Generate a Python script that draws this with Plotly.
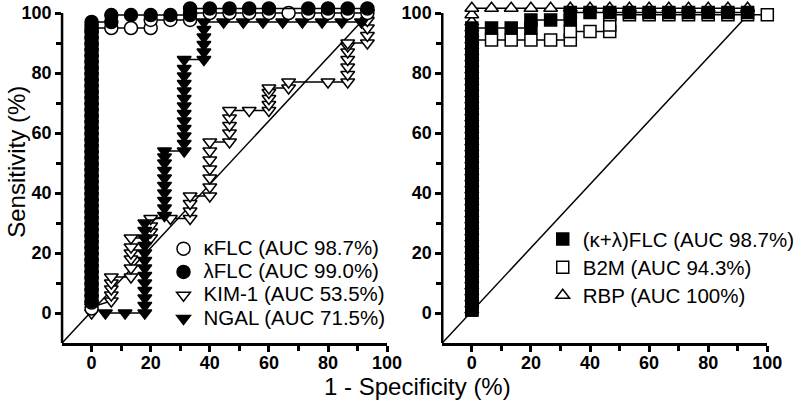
import plotly.graph_objects as go

# ---------------- data (1 - specificity %, sensitivity %) ----------------
# Left panel
kflc_fpr = [0, 0, 0, 0, 0, 0, 0, 0, 0, 0, 0, 0, 0, 0, 0, 0, 0, 0, 0, 0, 0, 0, 0, 0,
            0, 0, 0, 0, 0, 0, 0, 0, 0, 0, 0, 0, 0, 0, 0, 0, 0, 0, 0, 0, 0, 0, 0, 0,
            6.67, 13.33, 20, 20, 26.67, 33.33, 33.33, 40, 46.67, 53.33, 60, 66.67, 73.33, 80, 86.67, 93.33]
kflc_sens = [1.5, 3.5, 5.5, 7.5, 9.5, 11.5, 13.5, 15.5, 17.5, 19.5, 21.5, 23.5, 25.5, 27.5, 29.5, 31.5,
             33.5, 35.5, 37.5, 39.5, 41.5, 43.5, 45.5, 47.5, 49.5, 51.5, 53.5, 55.5, 57.5, 59.5, 61.5, 63.5,
             65.5, 67.5, 69.5, 71.5, 73.5, 75.5, 77.5, 79.5, 81.5, 83.5, 85.5, 87.5, 89.5, 91.5, 93.5, 95,
             95, 95, 95, 97.7, 97.7, 97.7, 100, 100, 100, 100, 100, 100, 100, 100, 100, 100]

lflc_fpr = [0, 0, 0, 0, 0, 0, 0, 0, 0, 0, 0, 0, 0, 0, 0, 0, 0, 0, 0, 0, 0, 0, 0, 0,
            0, 0, 0, 0, 0, 0, 0, 0, 0, 0, 0, 0, 0, 0, 0, 0, 0, 0, 0, 0, 0, 0, 0, 0,
            6.67, 6.67, 13.33, 20, 26.67, 33.33, 33.33, 40, 46.67, 53.33, 60, 73.33, 80, 86.67, 93.33]
lflc_sens = [4, 6, 8, 10, 12, 14, 16, 18, 20, 22, 24, 26, 28, 30, 32, 34, 36, 38, 40, 42, 44, 46, 48, 50,
             52, 54, 56, 58, 60, 62, 64, 66, 68, 70, 72, 74, 76, 78, 80, 82, 84, 86, 88, 90, 92, 94, 96, 97,
             97, 99.3, 99.3, 99.3, 99.3, 99.3, 101.5, 101.5, 101.5, 101.5, 101.5, 101.5, 101.5, 101.5, 101.5]

kim1_fpr = [0, 0, 6.67, 6.67, 6.67, 6.67, 6.67, 13.33, 13.33, 13.33, 13.33, 13.33, 13.33,
            20, 20, 20, 20, 26.67, 33.33, 33.33, 33.33, 33.33,
            40, 40, 40, 40, 40, 40, 40, 46.67, 46.67, 46.67, 46.67, 46.67, 53.33,
            60, 60, 60, 60, 60, 66.67, 66.67, 80, 86.67, 86.67, 86.67, 86.67, 86.67, 86.67, 86.67,
            93.33, 93.33, 93.33, 93.33, 93.33]
kim1_sens = [0, 2, 4, 6, 8, 10, 12, 12, 15, 18, 20, 22, 25,
             25, 27, 29, 31.5, 31.5, 31.5, 34, 36.5, 39,
             39, 42, 45, 48, 51, 54, 57, 57, 60, 62.5, 65, 67.5, 67.5,
             67.5, 69.5, 71.5, 73.5, 75, 75, 77, 77, 77, 79.5, 82, 84.5, 87, 89, 90,
             90, 92.5, 95, 97.5, 100]

ngal_fpr = [4.67, 11.33, 18, 18, 18, 18, 18, 18, 18, 18, 18, 18, 18, 18, 18,
            24.67, 24.67, 24.67, 24.67, 24.67, 24.67, 24.67, 24.67, 24.67, 24.67,
            31.33, 31.33, 31.33, 31.33, 31.33, 31.33, 31.33, 31.33, 31.33, 31.33, 31.33, 31.33, 31.33,
            38, 38, 38, 38, 38, 38,
            44.67, 51.33, 58, 64.67, 71.33, 78, 84.67, 91.33, 93.33]
ngal_sens = [0, 0, 0, 2.5, 5, 7.5, 10, 12.5, 15, 17.5, 20, 22.5, 25, 27.5, 30,
             32.5, 35, 37.5, 40, 42.5, 45, 47.5, 50, 52, 54,
             54, 56.5, 59, 61.5, 64, 66.5, 69, 71.5, 74, 76.5, 79, 81.5, 84.5,
             84.5, 87, 89.5, 92, 94.5, 97,
             97, 97, 97, 97, 97, 97, 97, 97, 100]

# Right panel
klflc_fpr = [0, 0, 0, 0, 0, 0, 0, 0, 0, 0, 0, 0, 0, 0, 0, 0, 0, 0, 0, 0, 0, 0, 0, 0,
             0, 0, 0, 0, 0, 0, 0, 0, 0, 0, 0, 0, 0, 0, 0, 0, 0, 0, 0, 0, 0, 0, 0, 0,
             6.67, 13.33, 20, 20, 26.67, 33.33, 33.33, 40, 46.67, 53.33, 60, 66.67, 73.33, 80, 86.67, 93.33]
klflc_sens = [1, 3, 5, 7, 9, 11, 13, 15, 17, 19, 21, 23, 25, 27, 29, 31, 33, 35, 37, 39, 41, 43, 45, 47,
              49, 51, 53, 55, 57, 59, 61, 63, 65, 67, 69, 71, 73, 75, 77, 79, 81, 83, 85, 87, 89, 91, 93, 95,
              95, 95, 95, 97.7, 97.7, 97.7, 100.2, 100.2, 100.2, 100.2, 100.2, 100.2, 100.2, 100.2, 100.2, 100.2]

b2m_fpr = [0, 0, 0, 0, 0, 0, 0, 0, 0, 0, 0, 0, 0, 0, 0, 0, 0, 0, 0, 0, 0, 0, 0, 0,
           0, 0, 0, 0, 0, 0, 0, 0, 0, 0, 0, 0, 0, 0, 0, 0, 0, 0, 0, 0, 0, 0,
           6.67, 13.33, 20, 26.67, 33.33, 33.33, 40, 46.67, 46.67, 46.67,
           53.33, 60, 66.67, 73.33, 80, 86.67, 93.33, 100]
b2m_sens = [1, 3, 5, 7, 9, 11, 13, 15, 17, 19, 21, 23, 25, 27, 29, 31, 33, 35, 37, 39, 41, 43, 45, 47,
            49, 51, 53, 55, 57, 59, 61, 63, 65, 67, 69, 71, 73, 75, 77, 79, 81, 83, 85, 87, 89, 91,
            91, 91, 91, 91, 91, 93.8, 93.8, 93.8, 96, 99.4,
            99.4, 99.4, 99.4, 99.4, 99.4, 99.4, 99.4, 99.4]

rbp_fpr = [0, 0, 0, 0, 0, 0, 0, 0, 0, 0, 0, 0, 0, 0, 0, 0, 0, 0, 0, 0, 0, 0, 0, 0,
           0, 0, 0, 0, 0, 0, 0, 0, 0, 0, 0, 0, 0, 0, 0, 0, 0, 0, 0, 0, 0, 0, 0, 0, 0, 0, 0,
           6.67, 13.33, 20, 26.67, 33.33, 40, 46.67, 53.33, 60, 66.67, 73.33, 80, 86.67, 93.33]
rbp_sens = [1, 3, 5, 7, 9, 11, 13, 15, 17, 19, 21, 23, 25, 27, 29, 31, 33, 35, 37, 39, 41, 43, 45, 47,
            49, 51, 53, 55, 57, 59, 61, 63, 65, 67, 69, 71, 73, 75, 77, 79, 81, 83, 85, 87, 89, 91, 93, 95,
            97, 99.4, 101.6,
            101.6, 101.6, 101.6, 101.6, 101.6, 101.6, 101.6, 101.6, 101.6, 101.6, 101.6, 101.6, 101.6, 101.6]

# reference (chance) line
diag_x = [-10, 94]
diag_y = [-10, 100]

left_labels = ["κFLC (AUC 98.7%)", "λFLC (AUC 99.0%)", "KIM-1 (AUC 53.5%)", "NGAL (AUC 71.5%)"]
right_labels = ["(κ+λ)FLC (AUC 98.7%)", "B2M (AUC 94.3%)", "RBP (AUC 100%)"]
major_ticks = [0, 20, 40, 60, 80, 100]
minor_ticks = [10, 30, 50, 70, 90]

FONT = "Liberation Sans, Arial, Helvetica, sans-serif"
W, H = 800, 405

fig = go.Figure()


def curve(x, y, symbol, fill, size, xa, ya):
    fig.add_trace(go.Scatter(
        x=x, y=y, mode="lines+markers", xaxis=xa, yaxis=ya, showlegend=False, cliponaxis=False,
        line=dict(color="black", width=1.5),
        marker=dict(symbol=symbol, size=size, color=fill, line=dict(color="black", width=1.5)),
        hoverinfo="skip"))


def legend_item(name, symbol, fill, size, legend):
    fig.add_trace(go.Scatter(
        x=[None], y=[None], mode="markers", legend=legend,
        name='<span style="font-size:20.5px">' + name + '</span>',
        marker=dict(symbol=symbol, size=size, color=fill, line=dict(color="black", width=1.5))))


# diagonals
fig.add_trace(go.Scatter(x=diag_x, y=diag_y, mode="lines", line=dict(color="black", width=1.5),
                         xaxis="x", yaxis="y", showlegend=False, hoverinfo="skip"))
fig.add_trace(go.Scatter(x=diag_x, y=diag_y, mode="lines", line=dict(color="black", width=1.5),
                         xaxis="x2", yaxis="y2", showlegend=False, hoverinfo="skip"))

# left panel curves
curve(kim1_fpr, kim1_sens, "triangle-down", "white", 12, "x", "y")
curve(ngal_fpr, ngal_sens, "triangle-down", "black", 12, "x", "y")
curve(kflc_fpr, kflc_sens, "circle", "white", 13, "x", "y")
curve(lflc_fpr, lflc_sens, "circle", "black", 13, "x", "y")

# right panel curves
curve(rbp_fpr, rbp_sens, "triangle-up", "white", 12, "x2", "y2")
curve(b2m_fpr, b2m_sens, "square", "white", 12, "x2", "y2")
curve(klflc_fpr, klflc_sens, "square", "black", 12, "x2", "y2")

# legends
legend_item(left_labels[0], "circle", "white", 13, "legend")
legend_item(left_labels[1], "circle", "black", 13, "legend")
legend_item(left_labels[2], "triangle-down", "white", 12, "legend")
legend_item(left_labels[3], "triangle-down", "black", 12, "legend")
legend_item(right_labels[0], "square", "black", 12, "legend2")
legend_item(right_labels[1], "square", "white", 12, "legend2")
legend_item(right_labels[2], "triangle-up", "white", 12, "legend2")

TICKFONT = dict(family=FONT, size=18, color="black", weight="bold")


def xax(domain, anchor):
    return dict(domain=domain, anchor=anchor, range=[-10, 100], tickvals=major_ticks,
                ticks="outside", ticklen=6, tickwidth=2.5, tickcolor="black", ticklabelstandoff=-4,
                showline=True, linewidth=2.5, linecolor="black", showgrid=False, zeroline=False,
                tickfont=TICKFONT,
                minor=dict(tickvals=minor_ticks, ticks="outside", ticklen=5, tickwidth=2.5,
                           tickcolor="black", showgrid=False),
                fixedrange=True, automargin=False)


def yax(domain, anchor):
    # range extends slightly above 100 so that offset markers at the top stay visible;
    # the axis line itself is drawn only from -10 to 100 (shape below)
    return dict(domain=domain, anchor=anchor, range=[-10, 102], tickvals=major_ticks,
                ticks="outside", ticklen=6, tickwidth=2.5, tickcolor="black",
                showline=False, showgrid=False, zeroline=False, tickfont=TICKFONT,
                minor=dict(tickvals=minor_ticks, ticks="outside", ticklen=5, tickwidth=2.5,
                           tickcolor="black", showgrid=False),
                fixedrange=True, automargin=False)


left_x = [63 / W, 393 / W]
right_x = [449 / W, 779 / W]
ydom = [(H - 343) / H, (H - 7) / H]
y_line = [(H - 343) / H, (H - 13) / H]

fig.update_layout(
    width=W, height=H, margin=dict(l=0, r=0, t=0, b=0),
    paper_bgcolor="white", plot_bgcolor="white",
    xaxis=xax(left_x, "y"), yaxis=yax(ydom, "x"),
    xaxis2=xax(right_x, "y2"), yaxis2=yax(ydom, "x2"),
    legend=dict(x=166 / W, y=(H - 232) / H, xanchor="left", yanchor="top", bgcolor="rgba(0,0,0,0)",
                font=dict(family=FONT, size=15.6, color="black"), tracegroupgap=0, itemclick=False),
    legend2=dict(x=551 / W, y=(H - 220) / H, xanchor="left", yanchor="top", bgcolor="rgba(0,0,0,0)",
                 font=dict(family=FONT, size=19.3, color="black"), tracegroupgap=0, itemclick=False),
    shapes=[
        dict(type="line", xref="paper", yref="paper", x0=left_x[0], x1=left_x[0],
             y0=y_line[0], y1=y_line[1], line=dict(color="black", width=2.5), layer="above"),
        dict(type="line", xref="paper", yref="paper", x0=right_x[0], x1=right_x[0],
             y0=y_line[0], y1=y_line[1], line=dict(color="black", width=2.5), layer="above"),
    ],
    annotations=[
        dict(text="Sensitivity (%)", x=16 / W, y=(H - 162) / H, xref="paper", yref="paper",
             textangle=-90, showarrow=False, font=dict(family=FONT, size=24, color="black"),
             xanchor="center", yanchor="middle"),
        dict(text="1 - Specificity (%)", x=424 / W, y=(H - 386) / H, xref="paper", yref="paper",
             showarrow=False, font=dict(family=FONT, size=24, color="black"),
             xanchor="center", yanchor="middle"),
    ],
)

fig.write_html("out.html", config={"displayModeBar": False},
               post_script="document.body.style.margin='0px';")
